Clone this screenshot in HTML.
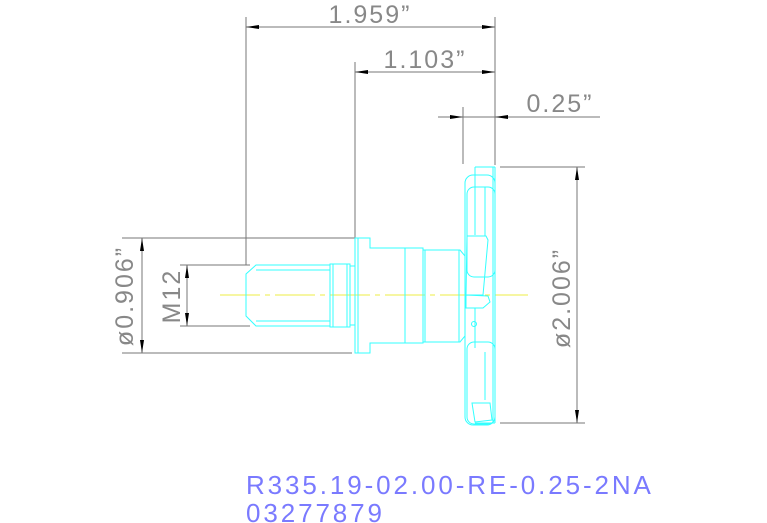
<!DOCTYPE html>
<html><head><style>
html,body{margin:0;padding:0;background:#fff;}
svg{display:block}
.d{stroke:#777;stroke-width:1;fill:none}
.c{stroke:#3ff;stroke-width:1;fill:none}
.t{font-family:"Liberation Sans",sans-serif;fill:#888;font-size:25px;font-weight:300;letter-spacing:2px}
.b{font-family:"Liberation Sans",sans-serif;fill:#7a7aff;font-size:26px;letter-spacing:2.9px}
</style></head><body>
<svg width="767" height="523" viewBox="0 0 767 523" xmlns="http://www.w3.org/2000/svg">
<g class="d">
<line x1="246" y1="17" x2="246" y2="265"/>
<line x1="495" y1="17" x2="495" y2="165"/>
<line x1="246" y1="27" x2="495" y2="27"/>
<line x1="355" y1="62" x2="355" y2="238"/>
<line x1="355" y1="72" x2="495" y2="72"/>
<line x1="463" y1="107" x2="463" y2="164"/>
<line x1="438" y1="117" x2="600" y2="117"/>
<line x1="122" y1="238" x2="355" y2="238"/>
<line x1="122" y1="353" x2="352" y2="353"/>
<line x1="142" y1="238" x2="142" y2="353"/>
<line x1="180" y1="265" x2="250" y2="265"/>
<line x1="180" y1="326" x2="250" y2="326"/>
<line x1="187" y1="265" x2="187" y2="326"/>
<line x1="500" y1="167" x2="585" y2="167"/>
<line x1="500" y1="423" x2="585" y2="423"/>
<line x1="577" y1="167" x2="577" y2="423"/>
</g>
<g fill="#000">
<polygon points="246,27 259,25 259,29"/><polygon points="495,27 482,25 482,29"/>
<polygon points="355,72 368,70 368,74"/><polygon points="495,72 482,70 482,74"/>
<polygon points="463,117 450,115 450,119"/><polygon points="495,117 508,115 508,119"/>
<polygon points="142,238 140,251 144,251"/><polygon points="142,353 140,340 144,340"/>
<polygon points="187,265 185,278 189,278"/><polygon points="187,326 185,313 189,313"/>
<polygon points="577,167 575,180 579,180"/><polygon points="577,423 575,410 579,410"/>
</g>
<text class="t" x="370" y="23" text-anchor="middle">1.959”</text>
<text class="t" x="425" y="68" text-anchor="middle">1.103”</text>
<text class="t" x="560" y="112" text-anchor="middle">0.25”</text>
<text class="t" transform="translate(133,296) rotate(-90)" text-anchor="middle">ø0.906”</text>
<text class="t" transform="translate(180,296) rotate(-90)" text-anchor="middle">M12</text>
<text class="t" transform="translate(570,298) rotate(-90)" text-anchor="middle">ø2.006”</text>
<line x1="220" y1="295" x2="528" y2="295" stroke="#ee4" stroke-width="1" stroke-dasharray="40,5,5,5"/>
<g class="c">
<polygon points="256,265 330,265 330,326 256,326 246,316 246,274"/>
<line x1="256" y1="270" x2="330" y2="270"/><line x1="256" y1="321" x2="330" y2="321"/>
<rect x="330" y="264" width="20" height="63"/>
<line x1="333" y1="264" x2="333" y2="327"/><line x1="347" y1="264" x2="347" y2="327"/>
<line x1="350" y1="266" x2="355" y2="266"/><line x1="350" y1="325" x2="355" y2="325"/>
<polygon points="355,238 370,238 370,248 423,248 423,250 460,250 465,256 465,336 460,342 423,342 423,343 370,343 370,353 355,353"/>
<line x1="358" y1="238" x2="358" y2="353"/>
<line x1="405" y1="248" x2="405" y2="343"/>
<line x1="423" y1="248" x2="423" y2="343"/>
<line x1="425" y1="250" x2="425" y2="342"/>
<line x1="459" y1="250" x2="459" y2="342"/>
<rect x="465" y="175" width="30" height="250" rx="8"/>
<rect x="467" y="187" width="28" height="90" rx="7"/>
<rect x="467" y="342" width="28" height="82" rx="7"/>
<line x1="475" y1="167" x2="495" y2="167"/><line x1="475" y1="167" x2="475" y2="235"/>
<line x1="485" y1="187" x2="485" y2="236"/><line x1="485" y1="352" x2="485" y2="400"/>
<polygon points="467,236 486,236 488,240 483,295 466,295"/>
<polygon points="466,295 488,296 490,302 483,308 466,308"/>
<line x1="475" y1="308" x2="475" y2="348"/>
<circle cx="474" cy="324" r="2.5"/>
<polygon points="472,403 490,403 492,420 475,422"/>
<line x1="495" y1="167" x2="495" y2="423"/>
<line x1="493" y1="167" x2="493" y2="423"/>
<line x1="475" y1="423" x2="495" y2="423"/>
</g>
<text class="b" x="246" y="494">R335.19-02.00-RE-0.25-2NA</text>
<text class="b" x="246" y="522">03277879</text>
</svg>
</body></html>
